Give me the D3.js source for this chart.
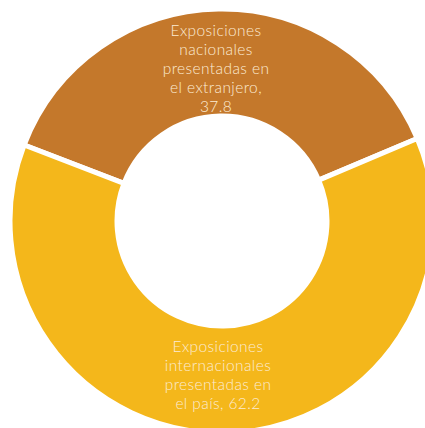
<!DOCTYPE html>
<html><head><meta charset="utf-8">
<script src="https://cdn.jsdelivr.net/npm/d3@7"></script>
<style>html,body{margin:0;padding:0;background:#fff;overflow:hidden}</style>
</head><body>
<svg id="c" width="425" height="428"></svg>
<script>
const categories = ["Exposiciones nacionales presentadas en el extranjero", "Exposiciones internacionales presentadas en el país"];
const values = [37.8, 62.2];
const labelLines = [
  ["Exposiciones", "nacionales", "presentadas en", "el extranjero,", "37.8"],
  ["Exposiciones", "internacionales", "presentadas en", "el país, 62.2"]
];
const colors = ["#C4782B", "#F4B71B"];

const svg = d3.select("#c");
const cx = 222, cy = 221, rOuter = 212, rInner = 105;
const g = svg.append("g").attr("transform", `translate(${cx},${cy})`);
const start = -69 * Math.PI / 180;
const pie = d3.pie().sort(null).value(d => d).startAngle(start).endAngle(start + 2 * Math.PI);
const arcs = pie(values);
const arc = d3.arc().innerRadius(rInner).outerRadius(rOuter);
g.selectAll("path").data(arcs).join("path")
  .attr("d", arc).attr("fill", (d, i) => colors[i])
  .attr("stroke", "#fff").attr("stroke-width", 5);

const lineH = 19;
const labelPos = [{x: -6, y: -190}, {x: -4, y: 126}];
arcs.forEach((a, i) => {
  const t = g.append("text")
    .attr("text-anchor", "middle")
    .attr("font-family", "Lato, sans-serif")
    .attr("font-weight", 300)
    .attr("font-size", 15.5)
    .attr("letter-spacing", 0.4)
    .attr("fill", "#FCEBD3");
  labelLines[i].forEach((s, j) => {
    t.append("tspan").attr("x", labelPos[i].x).attr("y", labelPos[i].y + j * lineH).attr("dy", "0.35em").text(s);
  });
});
</script>
</body></html>
